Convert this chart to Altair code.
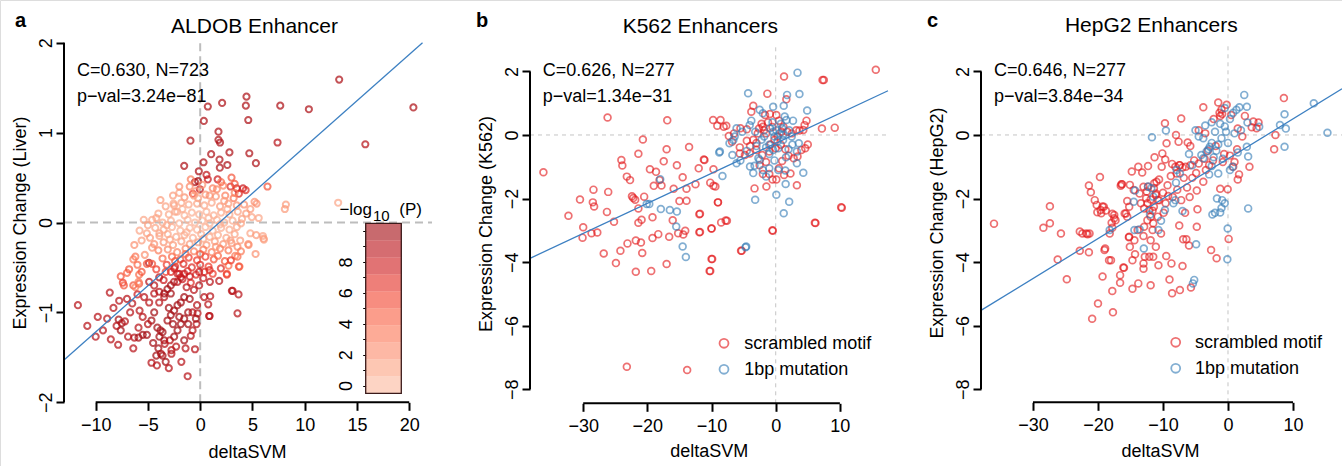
import altair as alt
import pandas as pd

FONT = "Liberation Sans"
W, H = 1342, 466
M = "\u2212"

# ---------------- data ----------------
# panel a: (deltaSVM, expression change, -log10 P)
aldob_points = [
    (13.3, 1.59, 9.5), (20.4, 1.28, 9.5), (10.4, 1.26, 9.5), (7.66, 1.30, 9.5), (15.8, 0.87, 9), (7.4, 0.89, 9),
    (4.43, 1.40, 9.5), (4.37, 1.30, 9.5), (4.6, 1.14, 9.5), (2.1, 1.33, 9.5), (0.73, 1.29, 9.5), (0.35, 1.13, 9.5),
    (-0.93, 0.91, 9.5), (1.75, 1.01, 9.5), (1.75, 0.92, 9.5), (1.9, 0.89, 9.5), (2.8, 0.78, 9.5), (1.05, 0.76, 9.5),
    (1.85, 0.70, 9.5), (1.88, 0.61, 9.5), (4.7, 0.77, 9.5), (5.33, 0.66, 9.5), (2.6, 0.64, 9.5), (0.32, 0.67, 9.5),
    (-1.53, 0.63, 9.5), (-0.13, 0.57, 9.5), (0.6, 0.53, 8.5), (0.73, 0.48, 8), (-0.2, 0.46, 10), (-0.03, 0.37, 8.5),
    (-0.5, 0.45, 9.5), (1.67, 0.48, 8), (3.5, 0.38, 8), (4.1, 0.38, 8), (4.35, 0.36, 7), (3.7, 0.32, 7),
    (6.44, 0.40, 5), (2.9, 0.40, 7), (-0.7, 0.32, 6),
    (8.2, 0.20, 1.5), (8.1, 0.15, 1.5), (13.2, 0.22, 1), (6.1, -0.19, 1), (5.4, 0.21, 2), (5.2, 0.23, 2),
    (5.6, 0.05, 1), (4.8, -0.12, 1), (5.3, -0.35, 2), (6.0, -0.15, 1), (4.94, 0.06, 1), (6.06, -0.18, 1.5),
    (5.36, -0.14, 1.5), (4.63, -0.25, 2.5), (3.83, -0.20, 1.5), (3.57, -0.38, 4), (3.76, -0.49, 4),
    (2.71, -0.48, 4), (2.55, -0.57, 5),
    (-1.0, 0.40, 2.5), (0.2, 0.42, 2), (1.2, 0.38, 3), (2.2, 0.41, 2.5), (-0.4, 0.35, 2), (2.0, 0.45, 4),
    (3.0, 0.50, 5), (3.3, 0.43, 5),
    (-2.6, 0.30, 1.5), (-1.5, 0.28, 2), (-0.6, 0.30, 1.5), (0.5, 0.31, 2), (1.5, 0.29, 2), (2.4, 0.30, 3),
    (3.2, 0.27, 3.5), (-2.0, 0.33, 1.2),
    (-2.5, 0.19, 1), (-3.3, 0.18, 1.2), (-1.8, 0.22, 1), (-1.1, 0.20, 1), (-0.3, 0.21, 1), (0.4, 0.19, 1),
    (1.1, 0.22, 1), (1.9, 0.18, 1.5), (2.7, 0.21, 1.5), (3.5, 0.19, 2), (4.2, 0.20, 2),
    (-4.0, 0.10, 1), (-3.0, 0.09, 0.8), (-2.2, 0.12, 0.8), (-1.5, 0.08, 0.5), (-0.8, 0.11, 0.5), (-0.1, 0.09, 0.5),
    (0.6, 0.12, 0.5), (1.3, 0.08, 0.6), (2.0, 0.11, 0.8), (2.8, 0.09, 1), (3.6, 0.12, 1.2), (4.4, 0.10, 1.5),
    (-5.4, 0.03, 1), (-4.6, 0.03, 1), (-3.6, 0.0, 0.8), (-2.8, 0.02, 0.5), (-2.0, -0.01, 0.4), (-1.2, 0.03, 0.3),
    (-0.5, 0.0, 0.3), (0.2, 0.02, 0.3), (0.9, -0.01, 0.3), (1.6, 0.03, 0.4), (2.3, 0.0, 0.5), (3.1, 0.02, 0.7),
    (3.9, -0.01, 1), (-2.4, 0.12, 1), (-2.55, 0.21, 1),
    (-5.8, -0.09, 1), (-5.1, -0.12, 1.2), (-4.3, -0.06, 1), (-3.5, -0.08, 0.8), (-2.7, -0.05, 0.5),
    (-1.9, -0.09, 0.4), (-1.0, -0.06, 0.3), (-0.3, -0.08, 0.3), (0.5, -0.05, 0.3), (1.2, -0.09, 0.4),
    (2.0, -0.06, 0.5), (2.8, -0.08, 0.7), (3.5, -0.05, 0.9), (-3.9, -0.12, 1),
    (-4.8, -0.17, 1.5), (-3.9, -0.15, 1.2), (-3.1, -0.13, 1), (-2.3, -0.16, 0.8), (-1.5, -0.14, 0.7),
    (-0.7, -0.17, 0.6), (0.1, -0.13, 0.6), (0.9, -0.16, 0.7), (1.7, -0.14, 0.8), (2.5, -0.17, 1), (3.3, -0.13, 1.2),
    (-4.4, -0.24, 2), (-3.5, -0.22, 1.8), (-2.6, -0.25, 1.5), (-1.8, -0.21, 1.3), (-1.0, -0.24, 1.5),
    (-0.2, -0.22, 1.5), (0.6, -0.25, 1.6), (1.4, -0.21, 1.5), (2.2, -0.24, 1.8), (3.0, -0.23, 2),
    (-4.0, -0.31, 3), (-3.1, -0.30, 2.5), (-2.2, -0.33, 2.5), (-1.4, -0.29, 2.5), (-0.6, -0.32, 3),
    (0.3, -0.30, 3), (1.1, -0.33, 3), (1.9, -0.29, 3), (2.7, -0.31, 3.5), (-5.3, -0.36, 2), (3.35, -0.37, 3),
    (3.57, -0.27, 2.5), (4.6, -0.24, 2),
    (-3.6, -0.40, 4), (-2.7, -0.38, 4), (-1.9, -0.41, 5), (-1.1, -0.39, 6), (-0.3, -0.42, 6), (0.5, -0.38, 6),
    (1.3, -0.41, 5), (2.36, -0.43, 5), (-6.4, -0.41, 3), (-6.2, -0.38, 3.5),
    (-4.9, -0.45, 9), (-3.2, -0.47, 6), (-2.4, -0.49, 7), (-1.6, -0.46, 7), (-0.8, -0.50, 7), (0.0, -0.47, 7),
    (0.8, -0.49, 6), (1.98, -0.51, 7), (2.94, -0.42, 6), (3.7, -0.49, 5), (-5.1, -0.46, 5), (-4.6, -0.46, 5),
    (-2.8, -0.55, 7), (-2.0, -0.57, 8), (-1.2, -0.54, 7), (-0.4, -0.58, 7), (0.4, -0.55, 7), (1.2, -0.57, 6),
    (2.55, -0.58, 6), (-7.0, -0.56, 4), (-6.8, -0.52, 5), (-5.84, -0.58, 4), (-5.6, -0.55, 5),
    (-3.5, -0.64, 8), (-2.5, -0.66, 9), (-1.7, -0.63, 8), (-0.9, -0.67, 7), (0.93, -0.66, 9), (1.82, -0.65, 9),
    (-5.84, -0.68, 5), (-6.4, -0.70, 5), (-7.4, -0.67, 6), (-6.2, -0.72, 3), (-5.9, -0.66, 3), (-7.3, -0.70, 5),
    (-4.2, 0.05, 1), (-3.2, -0.03, 0.7), (-1.7, 0.15, 0.6), (-0.2, 0.27, 1.2), (0.8, 0.05, 0.4), (1.9, -0.02, 0.5),
    (2.6, 0.15, 1), (3.3, 0.33, 3), (4.0, 0.04, 1.2), (-5.0, -0.03, 1.2), (-4.6, -0.28, 2), (-2.9, -0.19, 1),
    (-1.3, -0.11, 0.5), (0.3, -0.18, 0.8), (1.5, -0.27, 1.8), (2.9, -0.20, 1.5), (3.9, -0.32, 3), (-3.8, 0.25, 1.5),
    (-0.9, 0.48, 3), (1.6, 0.37, 2.5), (-6.3, -0.25, 2), (-5.6, -0.20, 1.5), (-2.0, 0.40, 2), (0.9, 0.30, 2),
    (2.3, 0.24, 1.5), (4.8, 0.15, 1.5), (-1.4, -0.35, 4), (0.0, -0.35, 5), (1.7, -0.37, 4), (-2.4, -0.43, 5),
    (-3.3, -0.55, 6), (0.9, -0.53, 7), (-0.1, -0.55, 8), (-1.0, -0.60, 8), (-4.2, -0.52, 6), (-6.0, -0.47, 4),
    (-7.6, -0.60, 5),
    (-11.7, -0.92, 9), (-10.0, -1.27, 9), (-8.9, -1.07, 9), (-8.65, -0.78, 9), (-7.75, -0.87, 9),
    (-8.55, -1.30, 9), (-7.85, -1.36, 9), (-7.8, -1.08, 10), (-7.5, -1.12, 10), (-7.2, -1.10, 9),
    (-7.6, -1.20, 10), (-6.4, -1.40, 9), (-6.9, -1.27, 9), (-6.3, -1.28, 9), (-5.9, -1.28, 10), (-5.5, -1.25, 10),
    (-4.66, -1.56, 9), (-4.14, -1.59, 9), (-1.2, -1.71, 9), (-3.76, -1.46, 9), (-2.75, -1.42, 9),
    (-2.75, -1.46, 9), (-1.4, -1.40, 9), (-0.5, -1.41, 9), (-0.9, -1.26, 9), (-0.35, -1.13, 9),
    (-0.25, -1.01, 9), (-0.3, -0.92, 9), (0.86, -1.04, 9), (0.77, -0.91, 9), (0.38, -0.83, 9), (0.96, -0.82, 9),
    (3.57, -1.01, 9), (3.03, -0.76, 9), (3.67, -0.80, 9), (3.1, -0.76, 9), (0.9, -1.04, 9),
    (-5.36, -0.83, 9), (-4.88, -0.89, 9), (-4.4, -1.0, 10), (-4.66, -1.09, 10), (-5.0, -1.13, 9),
    (-5.9, -1.17, 9), (-5.1, -1.25, 10), (-4.5, -1.34, 10), (-4.1, -1.17, 10), (-3.8, -1.20, 10),
    (-3.6, -1.22, 10), (-3.9, -1.27, 10), (-3.44, -1.31, 10), (-4.0, -1.40, 10), (-4.2, -1.48, 10),
    (-3.4, -1.35, 9), (-2.9, -1.31, 9), (-3.13, -1.09, 10), (-2.81, -1.03, 10), (-2.49, -0.98, 10),
    (-2.17, -0.92, 10), (-1.85, -0.89, 10), (-1.53, -0.83, 10), (-3.92, -0.89, 9), (-3.44, -0.83, 9),
    (-3.92, -0.77, 9), (-3.13, -0.74, 10), (-2.81, -0.70, 10), (-2.17, -0.66, 9), (-1.85, -0.61, 9),
    (-1.53, -0.57, 8), (-2.17, -0.57, 8), (-2.49, -0.51, 8), (-1.85, -1.13, 10), (-1.53, -1.07, 10),
    (-1.15, -1.0, 10), (-0.73, -1.0, 9), (-0.41, -1.07, 10), (-1.15, -1.13, 10), (-2.17, -1.2, 10),
    (-2.49, -1.27, 10), (-1.53, -1.31, 10), (-0.73, -1.2, 9), (-4.4, -0.79, 9), (-3.44, -0.79, 10),
    (-2.81, -0.79, 10), (-4.88, -0.66, 9), (-4.4, -0.70, 9), (-3.92, -0.61, 9), (-3.0, -0.95, 10),
    (-2.6, -1.13, 10), (-2.0, -1.05, 10), (-1.0, -0.85, 10), (-0.6, -0.75, 9), (-0.1, -0.70, 9),
    (0.3, -0.62, 8), (-1.3, -0.72, 9), (-5.8, -0.98, 9), (-6.5, -0.90, 9), (-6.0, -0.80, 8), (-5.5, -1.05, 9),
    (-3.3, -1.55, 10), (-3.6, -1.48, 10), (-2.3, -1.38, 9), (-1.8, -1.55, 9), (-3.0, -1.62, 9),
    (-8.0, -1.15, 9), (-9.3, -1.20, 9), (-9.8, -1.05, 9), (-6.7, -1.0, 9), (-7.0, -0.85, 9),
    (-10.8, -1.15, 9), (-8.3, -0.95, 9),
]

# panel b: (deltaSVM, expression change)
k562_scrambled = [
    (-36.2, -1.17), (-26.2, 0.55), (-16.9, 0.46), (-20.7, -0.14), (-13.5, -0.38), (-21.4, -0.59),
    (-24.05, -0.79), (-23.9, -0.96), (-17.45, -0.83), (-11.1, -0.79), (-15.4, -0.95), (-19.6, -1.08),
    (-18.65, -1.16), (-23.2, -1.31), (-22.7, -1.42), (-14.5, -1.33), (-18.1, -1.42), (-28.4, -1.72),
    (-26.1, -1.79), (-17.8, -1.59), (-15.9, -1.69), (-13.9, -1.69), (-10.2, -1.50), (-9.7, -1.60),
    (-9.4, -1.62), (-22.4, -1.93), (-22.2, -1.98), (-21.9, -2.04), (-20.5, -1.94), (-30.5, -2.03),
    (-28.5, -2.12), (-28.3, -2.25), (-21.4, -2.31), (-15.0, -2.08), (-13.9, -2.07), (-9.0, -2.12),
    (-26.3, -2.42), (-32.3, -2.54), (-19.2, -2.59), (-11.9, -2.49), (-16.05, -2.68), (-25.2, -2.73),
    (-20.9, -2.67), (-21.4, -2.76), (-8.5, -2.75), (-7.6, -2.70), (-30.0, -2.90), (-30.1, -3.23),
    (-28.7, -3.09), (-27.8, -3.07), (-19.2, -3.24), (-18.3, -3.12), (-16.6, -3.20), (-15.2, -3.09),
    (-14.1, -3.01), (-14.4, -3.13), (-11.9, -3.06), (-10.0, -2.94), (-21.8, -3.32), (-21.0, -3.38),
    (-23.1, -3.41), (-24.2, -3.64), (-20.8, -3.71), (-26.8, -3.73), (-24.9, -4.03), (-17.0, -4.06),
    (-21.8, -4.30), (-19.4, -4.28), (-9.9, -3.90), (-10.2, -4.28), (-5.3, -3.64), (-23.2, -7.29),
    (-13.8, -7.39), (-0.47, -3.01), (6.2, -2.77), (10.3, -2.29), (15.6, 2.05), (1.3, 1.84), (7.3, 1.73),
    (7.5, 1.73), (-1.3, 1.30), (1.66, 1.12), (9.2, 0.23), (7.2, 0.20), (-3.5, 0.92), (-3.8, 0.73),
    (-9.76, 0.47), (-8.6, 0.47), (-7.7, 0.29), (-9.1, 0.29), (-8.1, 0.26), (4.8, 0.45), (4.5, 0.31),
    (3.7, 0.14), (4.3, 0.16), (-1.66, 0.63), (-0.9, 0.66), (0.1, 0.63), (-4.5, 0.18), (-5.5, 0.21),
    (-2.2, 0.35), (-2.0, 0.26), (-1.8, 0.15), (-2.6, 0.20), (1.2, 0.26), (0.9, 0.10), (1.8, 0.10), (3.2, 0.15),
    (-7.3, -0.03), (-6.8, -0.21), (-5.6, -0.39), (-4.5, -0.18), (-5.6, -0.58), (-4.8, -0.63), (-11.2, -0.77),
    (-9.7, -1.08), (-4.05, -0.58), (-3.0, -0.47), (-2.1, -0.63), (-1.0, -0.52), (0.0, -0.42), (0.8, -0.31),
    (4.0, -0.47), (4.6, -0.42), (3.4, -0.68), (2.8, -0.73), (2.3, -1.21), (1.3, -1.26), (0.5, -1.05),
    (-0.5, -1.40), (0.1, -1.40), (-1.0, -1.23), (-2.0, -1.23), (-3.3, -1.68), (-1.45, -1.62), (3.3, -1.58),
    (10.2, -2.27), (6.1, -2.76), (-0.5, -3.0), (-11.8, -2.48), (-11.8, -3.05), (-9.0, -2.12), (-10.0, -2.94),
    (-7.8, -2.69), (-5.4, -3.64), (-10.0, -3.9), (-10.3, -4.28), (-12.5, -1.55), (-12.0, -1.05),
    (-17.0, -0.45), (-19.0, -1.60), (-6.5, 0.05), (-3.0, -0.25), (-1.5, 0.05), (-0.5, 0.25), (2.5, 0.05),
    (5.0, -0.30), (1.5, -0.45), (2.0, -0.65), (-1.5, -0.85), (-2.5, -0.95), (-3.5, -0.15), (0.5, 0.45),
    (-0.2, -0.15), (1.0, -0.82), (-0.8, -0.30), (-1.2, 0.40), (-2.8, 0.05), (0.3, -0.05), (-4.0, -0.35),
]
k562_1bp = [
    (3.4, 1.96), (-4.3, 1.31), (3.7, 1.29), (1.77, 1.26), (-0.4, 0.89), (1.25, 0.92), (-2.5, 0.79),
    (-2.0, 0.68), (4.9, 0.77), (1.4, 0.58), (1.66, 0.47), (2.7, 0.45), (-6.1, 0.21), (-5.2, 0.10),
    (-4.05, 0.31), (-3.2, 0.10), (-0.9, 0.21), (-0.4, 0.10), (0.1, 0.15), (0.6, 0.05), (1.15, 0.0),
    (2.1, 0.15), (2.5, -0.05), (1.0, 0.21), (-6.6, -0.16), (-6.4, -0.05), (-7.2, -0.26), (-8.7, -0.52),
    (-8.3, -1.29), (-4.0, -0.99), (-3.3, -0.97), (-2.5, -0.79), (-2.0, -1.10), (-1.5, -1.31), (-2.7, -0.73),
    (-1.5, -0.39), (-1.0, -0.31), (-0.4, -0.47), (0.4, -0.42), (1.15, -0.16), (3.3, -0.52), (3.6, -0.26),
    (1.55, -1.54), (0.1, -1.88), (2.1, -2.10), (1.25, -2.46), (-3.2, -2.04), (-4.7, -3.53), (-8.8, -0.55),
    (-6.75, -0.63), (-6.1, -0.89), (-18.0, -1.39), (-20.1, -2.17), (-19.7, -2.17), (-17.9, -2.33),
    (-16.5, -2.36), (-15.4, -2.41), (-15.5, -2.88), (-14.5, -3.51), (-14.0, -3.84), (-4.6, -3.51),
    (4.3, -1.19), (3.3, -0.89), (1.5, -1.12), (0.4, -1.10), (-0.2, -0.80), (-1.0, -0.60), (-0.5, 0.40),
    (0.8, 0.35), (-3.8, 0.45), (-1.8, -0.05), (0.3, -0.20), (2.0, -0.45), (-4.5, -0.50), (-3.0, -0.35),
    (-5.5, -0.80), (-2.2, -0.15), (-0.2, -0.05), (1.6, -0.70), (2.6, -0.30), (-3.5, -1.20), (-1.0, -1.05),
]

# panel c: (deltaSVM, expression change)
hepg2_scrambled = [
    (-36.0, -2.79), (-27.4, -2.24), (-28.4, -2.92), (-27.4, -2.78), (-25.7, -3.10), (-26.2, -3.92),
    (-24.8, -4.54), (-22.8, -3.04), (-21.8, -3.10), (-21.3, -3.10), (-21.4, -3.69), (-22.8, -3.64),
    (-21.4, -1.59), (-21.1, -1.80), (-19.7, -1.32), (-20.5, -2.05), (-20.2, -2.20), (-20.1, -2.43),
    (-19.3, -2.25), (-18.8, -2.38), (-19.5, -2.46), (-17.8, -2.48), (-17.5, -2.62), (-17.9, -2.76),
    (-17.8, -2.92), (-16.3, -1.55), (-18.2, -3.10), (-18.9, -3.57), (-18.3, -3.94), (-19.3, -4.45),
    (-20.0, -5.30), (-20.9, -5.78), (-17.7, -5.58), (-17.8, -4.91), (-16.6, -4.41), (-16.0, -4.18),
    (-15.1, -3.52), (-15.25, -3.22), (-13.8, -4.67), (-14.7, -4.84), (-11.9, -4.73), (-13.0, -4.21),
    (-13.0, -4.04), (-12.8, -3.83), (-11.5, -3.83), (-10.7, -4.10), (-9.0, -4.55), (-8.6, -4.98),
    (-7.4, -4.88), (-7.0, -4.12), (-8.7, -4.04), (-9.5, -3.81), (-5.7, -4.80), (-7.5, -2.85), (-6.9, -3.28),
    (-6.4, -3.28), (-6.0, -3.48), (-4.8, -2.89), (-4.7, -2.34), (-2.6, -3.62), (-1.75, -3.88), (0.1, -3.27),
    (1.5, -1.40), (1.7, -1.24), (3.3, -1.0), (-1.2, -1.69), (-0.05, -1.71), (-3.8, -1.47), (-3.4, -1.10),
    (8.6, 1.16), (7.3, 0.0), (7.1, -0.45), (3.9, 0.42), (4.7, 0.39), (4.4, 0.21), (3.65, 0.24), (-7.2, 0.52),
    (-9.7, 0.37), (-9.45, -0.26), (-10.1, -0.58), (-1.5, 1.02), (-3.8, 0.87), (-1.3, 0.70), (-0.9, 0.66),
    (0.5, 0.63), (-1.2, 0.60), (0.8, -1.0), (1.0, -0.85), (-0.6, -0.60),
    (-16.5, -1.60), (-15.7, -2.47), (-15.5, -2.57), (-14.7, -3.94), (-14.3, -3.75), (-14.4, -3.31),
    (-13.9, -2.99), (-13.0, -3.18), (-12.9, -2.89), (-12.4, -2.68), (-11.9, -2.57), (-11.5, -2.78),
    (-12.1, -2.36), (-12.4, -2.15), (-12.6, -1.99), (-11.9, -2.03), (-13.0, -1.63), (-13.6, -1.84),
    (-14.5, -1.73), (-13.4, -2.15), (-12.9, -2.31), (-15.2, -3.20), (-15.5, -2.08), (-15.9, -2.47),
    (-15.2, -2.26), (-11.4, -1.68), (-11.1, -1.84), (-10.8, -2.05), (-11.4, -2.26), (-11.6, -2.38),
    (-10.8, -2.57), (-11.6, -2.99), (-11.9, -3.31), (-11.1, -3.52), (-10.3, -3.10), (-12.1, -3.83),
    (-9.66, -0.77), (-10.2, -1.0), (-8.6, -0.91), (-8.1, -1.0), (-7.4, -0.95), (-7.0, -1.02), (-7.9, -1.21),
    (-8.8, -1.29), (-9.3, -1.58), (-11.0, -1.47), (-11.35, -1.52), (-12.3, -1.63), (-12.5, -1.78),
    (-11.1, -1.89), (-10.6, -2.05), (-10.0, -1.82), (-9.2, -1.92), (-15.1, -1.57), (-16.4, -1.55),
    (-7.6, -0.21), (-6.2, -0.24), (-7.5, -0.95), (-6.5, -1.00), (-5.8, -0.95), (-5.2, -0.80), (-4.5, -0.90),
    (-6.8, -1.35), (-7.8, -1.72), (-8.5, -1.95), (-6.3, -1.65), (-5.5, -1.35), (-4.9, -1.20), (-9.9, -2.45),
    (-9.6, -2.15), (-7.2, -2.05), (-6.6, -2.45), (-5.9, -1.95), (-4.8, -1.75), (-3.6, -0.75), (-2.9, -0.95),
    (-2.3, -0.80), (-1.9, -0.35), (-3.5, 0.05), (-4.5, 0.15), (-5.8, -0.35), (-0.8, -0.85), (0.3, -0.65),
    (1.4, -0.45), (2.2, -0.05), (1.5, 0.20), (2.6, 0.60), (-1.0, 0.80), (-0.2, 0.95), (-2.2, 0.50),
    (-3.1, -0.50), (-8.0, 0.0), (-11.3, -0.70), (-12.3, -0.98), (-13.2, -1.18), (-10.6, -1.40),
    (-13.8, -1.00), (-14.8, -1.15), (-19.1, -2.26), (-19.6, -2.36), (-22.4, -3.10), (-21.6, -3.12),
    (-17.5, -2.52), (-17.3, -2.68), (-18.0, -3.94), (-19.0, -3.62), (-16.1, -4.17), (-16.6, -4.65),
]
hepg2_1bp = [
    (2.5, 1.26), (13.2, 1.0), (15.3, 0.07), (8.7, 0.65), (8.9, 0.20), (8.7, -0.37), (8.0, 0.31), (1.75, 0.87),
    (2.9, 0.89), (1.3, 0.79), (0.8, 0.70), (4.8, 0.26), (3.0, 0.39), (3.1, -0.68), (2.9, -0.37), (3.1, -2.31),
    (-0.05, -2.94), (-0.1, -3.91), (-5.2, -4.56), (-5.4, -4.67), (-4.9, -3.44), (-2.4, -2.50), (-2.0, -2.45),
    (-1.2, -2.44), (-1.0, -2.30), (-0.5, -2.15), (-0.9, -2.05), (-1.7, -2.00), (-7.0, -2.39), (-8.1, -2.05),
    (-8.4, -2.15), (-9.7, -2.36), (-11.7, -0.07), (-9.55, 0.14), (-12.95, -3.57), (-14.4, -2.99),
    (-13.6, -2.97), (-18.2, -2.99), (-14.3, -1.75), (-12.3, -1.62), (-11.8, -1.68), (-11.5, -1.94),
    (-10.7, -2.99), (-7.9, -1.10), (-7.4, -1.21), (-8.0, -1.50), (-4.1, -0.63), (-3.8, -0.73), (-3.3, -0.52),
    (-2.8, -0.37), (-2.5, -0.98), (-2.9, -1.24), (0.3, -1.10), (0.7, -1.00), (-1.5, -1.21), (-0.5, 0.27),
    (-1.2, 0.35), (-2.5, 0.40), (-3.5, 0.30), (-2.0, 0.10), (-1.0, -0.10), (0.0, -0.25), (-2.5, -0.25),
    (-3.0, -0.45), (-1.8, -0.50), (-4.5, -0.05), (1.0, 0.05), (2.0, 0.15), (-0.5, 0.85), (0.3, 0.50),
    (-5.0, 0.15), (-6.0, -0.60), (-5.5, -0.95), (1.5, -0.55), (-0.8, -0.75), (-12.0, -2.50), (-14.5, -2.10),
    (-10.3, -2.70), (-1.5, -0.30), (-0.3, 0.10), (-3.8, -0.10), (-2.2, -0.70),
]

panel_letters = ["a", "b", "c"]
panel_titles = ["ALDOB Enhancer", "K562 Enhancers", "HepG2 Enhancers"]
y_titles = ["Expression Change (Liver)", "Expression Change (K562)", "Expression Change (HepG2)"]
x_title = "deltaSVM"
stat_c = ["C=0.630, N=723", "C=0.626, N=277", "C=0.646, N=277"]
stat_p = ["p" + M + "val=3.24e" + M + "81", "p" + M + "val=1.34e" + M + "31", "p" + M + "val=3.84e" + M + "34"]
fit_slopes = [0.1029, 0.0945, 0.1255]
fit_intercepts = [-0.189, -0.262, -0.75]
xticks_a = [-10, -5, 0, 5, 10, 15, 20]
yticks_a = [-2, -1, 0, 1, 2]
xticks_bc = [-30, -20, -10, 0, 10]
yticks_bc = [-8, -6, -4, -2, 0, 2]
legend_labels = ["scrambled motif", "1bp mutation"]
cb_edges = [-0.5, 0.6, 1.7, 2.8, 3.9, 5.0, 6.1, 7.2, 8.3, 9.4, 10.5]
cb_ticks = [0, 1, 2, 3, 4, 5, 6, 7, 8, 9, 10]
cb_title = [M + "log", "10", "(P)"]

REDS = ["#FCBBA1", "#FC9272", "#FB6A4A", "#EF3B2C", "#CB181D", "#A50F15"]
SCRAMBLED = "#E41A1C"
ONEBP = "#377EB8"
FIT = "#3D80C2"

# ---------------- layout (pixels) ----------------
GEOM = {
    "a": dict(px=(64, 432), py=(402.3, 42.7), dx=(-13.03, 22.18), dy=(-2.0, 2.0)),
    "b": dict(px=(530, 888), py=(403.3, 45), dx=(-38.29, 17.5), dy=(-8.44, 2.83)),
    "c": dict(px=(981, 1342), py=(402.3, 45), dx=(-38.0, 17.54), dy=(-8.41, 2.83)),
}
XTITLE_POS = {"a": (247, 457.3), "b": (708.8, 456.7), "c": (1160, 456.7)}
YTITLE_POS = {"a": (25, 222.5), "b": (491.7, 223.5), "c": (942.3, 222.5)}
TITLE_POS = {"a": (254.5, 33.3), "b": (700.3, 33.3), "c": (1151.3, 32.3)}
LETTER_POS = {"a": (15, 26.7), "b": (476, 26.7), "c": (927, 26.7)}
STAT_POS = {"a": (77, 76, 101.7), "b": (542.7, 76, 101.7), "c": (994, 76, 101.7)}
LEGEND_POS = {"b": (724, 343.3, 744.3), "c": (1175.7, 342.3, 1195)}
CB_PX = (365.7, 401.3)
CB_PY = (393.3, 223.3)
TICK_FONT = 18

color_scale = alt.Scale(domain=[0, 10], range=REDS, clamp=True)
one = pd.DataFrame({"k": [0]})


def xaxis(ticks, key):
    g = GEOM[key]
    tx, ty = XTITLE_POS[key]
    return alt.Axis(values=ticks, orient="bottom", offset=g["py"][0] - H, domain=False, grid=False,
                    tickSize=8, tickWidth=2, tickColor="black", labelFontSize=TICK_FONT, labelFont=FONT,
                    labelColor="black", labelPadding=6, labelFlush=False, labelOverlap=False,
                    title=x_title, titleFont=FONT, titleFontSize=18, titleFontWeight="normal",
                    titleColor="black", titleX=tx, titleY=ty - g["py"][0], titleAlign="center",
                    titleBaseline="alphabetic")


def yaxis(ticks, key, title):
    g = GEOM[key]
    tx, ty = YTITLE_POS[key]
    return alt.Axis(values=ticks, orient="left", offset=-g["px"][0], domain=False, grid=False,
                    tickSize=8, tickWidth=2, tickColor="black", labelFontSize=TICK_FONT, labelFont=FONT,
                    labelColor="black", labelAngle=270, labelAlign="center", labelBaseline="alphabetic",
                    labelPadding=5, labelFlush=False, labelOverlap=False,
                    title=title, titleFont=FONT, titleFontSize=18, titleFontWeight="normal",
                    titleColor="black", titleAngle=270, titleX=tx - g["px"][0], titleY=ty,
                    titleAlign="center", titleBaseline="alphabetic")


def fit_frame(key, m, b):
    g = GEOM[key]
    x0, x1 = g["dx"]
    y0, y1 = g["dy"]
    xa, xb = x0, x1
    if m * xb + b > y1:
        xb = (y1 - b) / m
    if m * xa + b < y0:
        xa = (y0 - b) / m
    return pd.DataFrame({"x": [xa, xb], "y": [m * xa + b, m * xb + b]})


def panel(key, point_layers, xticks, yticks, ytitle, m, b, dash_style):
    g = GEOM[key]
    xs = alt.Scale(domain=list(g["dx"]), range=list(g["px"]), nice=False, zero=False)
    ys = alt.Scale(domain=list(g["dy"]), range=list(g["py"]), nice=False, zero=False)
    xa = xaxis(xticks, key)
    ya = yaxis(yticks, key, ytitle)
    vdash = alt.Chart(one).mark_rule(**dash_style).encode(
        x=alt.XDatum(0, type="quantitative", scale=xs, axis=xa),
        y=alt.YDatum(g["dy"][0], type="quantitative", scale=ys, axis=ya),
        y2=alt.Y2Datum(g["dy"][1]))
    hdash = alt.Chart(one).mark_rule(**dash_style).encode(
        x=alt.XDatum(g["dx"][0], type="quantitative", scale=xs, axis=xa),
        x2=alt.X2Datum(g["dx"][1]),
        y=alt.YDatum(0, type="quantitative", scale=ys, axis=ya))
    xline = alt.Chart(one).mark_rule(color="black", strokeWidth=2).encode(
        x=alt.XDatum(xticks[0], type="quantitative", scale=xs, axis=xa),
        x2=alt.X2Datum(xticks[-1]),
        y=alt.YDatum(g["dy"][0], type="quantitative", scale=ys, axis=ya))
    yline = alt.Chart(one).mark_rule(color="black", strokeWidth=2).encode(
        x=alt.XDatum(g["dx"][0], type="quantitative", scale=xs, axis=xa),
        y=alt.YDatum(yticks[0], type="quantitative", scale=ys, axis=ya),
        y2=alt.Y2Datum(yticks[-1]))
    pts = [layer(xs, ys, xa, ya) for layer in point_layers]
    fit = alt.Chart(fit_frame(key, m, b)).mark_line(color=FIT, strokeWidth=1.3).encode(
        x=alt.X("x:Q", scale=xs, axis=xa), y=alt.Y("y:Q", scale=ys, axis=ya))
    return alt.layer(vdash, hdash, *pts, fit, xline, yline)


def aldob_layer(xs, ys, xa, ya):
    df = pd.DataFrame(aldob_points, columns=["x", "y", "p"])
    return alt.Chart(df).mark_point(shape="circle", filled=False, size=38, strokeWidth=2, opacity=0.72).encode(
        x=alt.X("x:Q", scale=xs, axis=xa), y=alt.Y("y:Q", scale=ys, axis=ya),
        color=alt.Color("p:Q", scale=color_scale, legend=None))


def group_layer(points, color):
    def make(xs, ys, xa, ya):
        df = pd.DataFrame(points, columns=["x", "y"])
        return alt.Chart(df).mark_point(shape="circle", filled=False, size=46, strokeWidth=1.7,
                                        color=color, opacity=0.62).encode(
            x=alt.X("x:Q", scale=xs, axis=xa), y=alt.Y("y:Q", scale=ys, axis=ya))
    return make


def text_at(s, px, py, size=18, weight="normal", align="left", baseline="alphabetic"):
    return alt.Chart(one).mark_text(text=s, font=FONT, fontSize=size, fontWeight=weight, align=align,
                                    baseline=baseline, color="black").encode(
        x=alt.value(px), y=alt.value(py))


def legend_circle(px, py, color):
    return alt.Chart(one).mark_point(shape="circle", filled=False, size=80, strokeWidth=1.8,
                                     color=color, opacity=0.62).encode(x=alt.value(px), y=alt.value(py))


dash_a = dict(color="#BDBDBD", strokeWidth=2, strokeDash=[8, 5])
dash_bc = dict(color="#C4C4C4", strokeWidth=1, strokeDash=[4, 4])

panel_a = panel("a", [aldob_layer], xticks_a, yticks_a, y_titles[0], fit_slopes[0], fit_intercepts[0], dash_a)
panel_b = panel("b", [group_layer(k562_scrambled, SCRAMBLED), group_layer(k562_1bp, ONEBP)],
                xticks_bc, yticks_bc, y_titles[1], fit_slopes[1], fit_intercepts[1], dash_bc)
panel_c = panel("c", [group_layer(hepg2_scrambled, SCRAMBLED), group_layer(hepg2_1bp, ONEBP)],
                xticks_bc, yticks_bc, y_titles[2], fit_slopes[2], fit_intercepts[2], dash_bc)

# colour bar for panel a
cb_df = pd.DataFrame({"lo": cb_edges[:-1], "hi": cb_edges[1:]})
cb_df["mid"] = (cb_df["lo"] + cb_df["hi"]) / 2
cb_x = alt.Scale(domain=[0, 1], range=list(CB_PX), nice=False, zero=False)
cb_y = alt.Scale(domain=[cb_edges[0], cb_edges[-1]], range=list(CB_PY), nice=False, zero=False)
cb_axis = alt.Axis(values=cb_ticks, orient="left", offset=-CB_PX[0], domain=False, grid=False,
                   tickSize=3, tickWidth=1, tickColor="black",
                   labelExpr="datum.value % 2 == 0 && datum.value < 10 ? datum.label : ''",
                   labelAngle=270, labelAlign="center", labelBaseline="alphabetic", labelPadding=11,
                   labelFontSize=TICK_FONT, labelFont=FONT, labelColor="black", labelOverlap=False,
                   labelFlush=False, title=None)
cb_bands = alt.Chart(cb_df).mark_rect(opacity=0.62).encode(
    x=alt.XDatum(0, type="quantitative", scale=cb_x, axis=None), x2=alt.X2Datum(1),
    y=alt.Y("lo:Q", scale=cb_y, axis=cb_axis), y2="hi:Q",
    color=alt.Color("mid:Q", scale=color_scale, legend=None))
cb_outline = alt.Chart(one).mark_rect(fillOpacity=0, stroke="#3a1a1a", strokeWidth=1.3).encode(
    x=alt.XDatum(0, type="quantitative", scale=cb_x, axis=None), x2=alt.X2Datum(1),
    y=alt.YDatum(cb_edges[0], type="quantitative", scale=cb_y, axis=cb_axis), y2=alt.Y2Datum(cb_edges[-1]))
colorbar = alt.layer(cb_bands, cb_outline)

texts = []
for i, key in enumerate(["a", "b", "c"]):
    tx, ty = TITLE_POS[key]
    texts.append(text_at(panel_titles[i], tx, ty, size=21, align="center"))
    lx, ly = LETTER_POS[key]
    texts.append(text_at(panel_letters[i], lx, ly, size=20, weight="bold"))
    sx, s1, s2 = STAT_POS[key]
    texts.append(text_at(stat_c[i], sx, s1, size=18))
    texts.append(text_at(stat_p[i], sx, s2, size=18))
for key in ["b", "c"]:
    cx, cy, lx = LEGEND_POS[key]
    texts.append(legend_circle(cx, cy, SCRAMBLED))
    texts.append(legend_circle(cx, cy + 26, ONEBP))
    texts.append(text_at(legend_labels[0], lx, cy + 6, size=18))
    texts.append(text_at(legend_labels[1], lx, cy + 32, size=18))
texts.append(text_at(cb_title[0], 372, 215, size=17, align="right"))
texts.append(text_at(cb_title[1], 373, 220.5, size=15))
texts.append(text_at(cb_title[2], 422, 215, size=17, align="right"))

chart = alt.layer(panel_a, colorbar, panel_b, panel_c, *texts).resolve_scale(
    x="independent", y="independent", color="shared"
).properties(
    width=W, height=H, padding=0, background="white",
    autosize=alt.AutoSizeParams(type="none"),
).configure_view(strokeWidth=0).configure(font=FONT)

chart.save("out.html", embed_options={"renderer": "svg", "actions": False})
